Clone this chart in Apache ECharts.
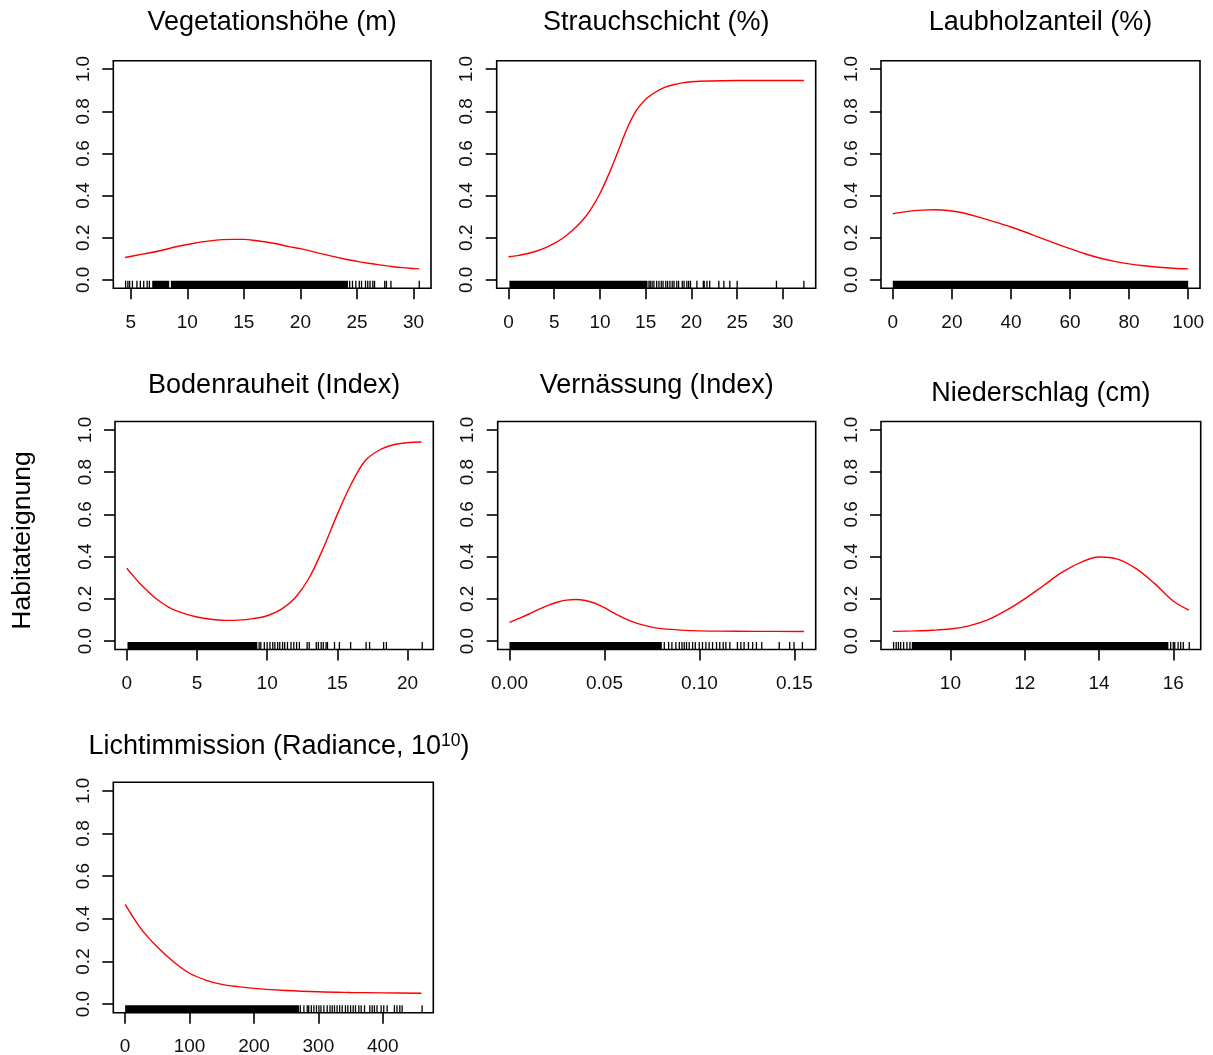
<!DOCTYPE html>
<html><head><meta charset="utf-8">
<script src="https://cdn.jsdelivr.net/npm/echarts@6/dist/echarts.min.js"></script>
<style>html,body{margin:0;padding:0;background:#fff}#c{width:1213px;height:1055px}</style>
</head><body><div id="c"></div>
<script>
// ---------------- DATA ----------------
const yLabel = 'Habitateignung';
const yTicks = [0, 0.2, 0.4, 0.6, 0.8, 1.0];
const yRange = [0, 1];

// 1 Vegetationshöhe
const vegTitle = 'Vegetationshöhe (m)';
const vegX = [4.5,6,7.5,9,10,12,14,15,16,17.5,19,20,22,24,25,26,27,28,29,30,30.5];
const vegY = [0.106,0.122,0.137,0.157,0.168,0.185,0.192,0.192,0.187,0.175,0.158,0.148,0.122,0.098,0.088,0.079,0.071,0.064,0.058,0.054,0.052];
const vegRange = [4.5, 30.5];
const vegTicks = [5,10,15,20,25,30];
const vegRugDense = [[6.9,8.4],[8.55,24.2]];
const vegRugTicks = [4.55,4.75,4.9,5.15,5.55,5.85,6.15,6.45,6.65,24.35,24.6,24.9,25.2,25.4,25.75,25.95,26.15,26.4,26.55,27.45,27.6,28.0,30.5];

// 2 Strauchschicht
const strTitle = 'Strauchschicht (%)';
const strX = [0,1,2,3,4,5,6,7,8,9,10,11,12,13,14,15,16,17,18,19,20,22,25,28,32.3];
const strY = [0.110,0.115,0.124,0.136,0.152,0.173,0.200,0.235,0.278,0.335,0.410,0.505,0.612,0.722,0.805,0.857,0.889,0.912,0.926,0.935,0.940,0.944,0.946,0.946,0.946];
const strRange = [0, 32.3];
const strTicks = [0,5,10,15,20,25,30];
const strRugDense = [[0.1,15.2]];
const strRugTicks = [15.36,15.5,15.7,15.9,16.2,16.45,16.7,16.9,17.2,17.4,17.65,17.9,18.1,18.4,18.6,19.0,19.2,19.5,19.7,19.9,20.6,21.3,21.4,21.7,22.0,23.0,23.55,24.2,25.0,29.3,32.3];

// 3 Laubholzanteil
const lauTitle = 'Laubholzanteil (%)';
const lauX = [0,5,10,14,20,25,30,35,40,45,50,55,60,65,70,75,80,85,90,95,100];
const lauY = [0.314,0.325,0.331,0.333,0.327,0.314,0.294,0.273,0.251,0.226,0.199,0.173,0.148,0.124,0.104,0.088,0.076,0.067,0.060,0.055,0.052];
const lauRange = [0, 100];
const lauTicks = [0,20,40,60,80,100];
const lauRugDense = [[0,100]];
const lauRugTicks = [];

// 4 Bodenrauheit
const bodTitle = 'Bodenrauheit (Index)';
const bodX = [0,0.5,1,1.5,2,3,4,5,6,7,8,9,10,11,12,13,14,15,16,17,18,19,20,21];
const bodY = [0.345,0.305,0.268,0.236,0.205,0.160,0.132,0.114,0.103,0.098,0.099,0.106,0.120,0.150,0.205,0.300,0.440,0.600,0.745,0.855,0.905,0.930,0.940,0.943];
const bodRange = [0, 21];
const bodTicks = [0,5,10,15,20];
const bodRugDense = [[0.05,9.3]];
const bodRugTicks = [9.43,9.55,9.8,10.0,10.2,10.4,10.55,10.75,10.9,11.1,11.25,11.45,11.7,11.9,12.1,12.3,12.85,13.0,13.5,13.65,13.85,14.0,14.2,14.3,14.8,15.15,15.95,17.05,17.3,18.3,18.5,21.05];

// 5 Vernässung
const verTitle = 'Vernässung (Index)';
const verX = [0,0.005,0.01,0.015,0.02,0.025,0.03,0.035,0.04,0.045,0.05,0.055,0.06,0.065,0.07,0.075,0.08,0.09,0.1,0.11,0.13,0.155];
const verY = [0.088,0.107,0.127,0.149,0.168,0.184,0.194,0.197,0.192,0.179,0.158,0.133,0.110,0.091,0.077,0.066,0.059,0.052,0.048,0.047,0.046,0.0455];
const verRange = [0, 0.155];
const verTicks = [0,0.05,0.10,0.15];
const verRugDense = [[0,0.0802]];
const verRugTicks = [0.0815,0.0838,0.0855,0.0876,0.0894,0.0908,0.092,0.0932,0.0946,0.0964,0.0978,0.0999,0.1016,0.1034,0.1051,0.1069,0.109,0.1107,0.1125,0.1139,0.116,0.12,0.1218,0.1235,0.1258,0.128,0.13,0.1328,0.142,0.1475,0.1498,0.1542];

// 6 Niederschlag
const niedTitle = 'Niederschlag (cm)';
const niedX = [8.45,9,9.5,10,10.5,11,11.5,12,12.5,13,13.5,14,14.5,15,15.5,16,16.42];
const niedY = [0.046,0.048,0.051,0.057,0.072,0.100,0.145,0.200,0.262,0.325,0.372,0.398,0.388,0.343,0.272,0.190,0.147];
const niedRange = [8.45, 16.42];
const niedTicks = [10,12,14,16];
const niedRugDense = [[8.96,15.87]];
const niedRugTicks = [8.47,8.54,8.6,8.66,8.74,8.83,8.91,15.93,16.0,16.04,16.13,16.2,16.27,16.43];

// 7 Lichtimmission
const lichtTitle = 'Lichtimmission (Radiance, 10{sup|10})';
const lichtX = [0,25,50,75,100,125,150,175,200,250,300,350,400,460];
const lichtY = [0.468,0.352,0.268,0.199,0.145,0.113,0.093,0.082,0.074,0.064,0.058,0.055,0.053,0.051];
const lichtRange = [0, 460];
const lichtTicks = [0,100,200,300,400];
const lichtRugDense = [[0,270]];
const lichtRugTicks = [272,277.5,282.7,285,289,293,297,300.8,304,308.5,313.7,318,321.5,325,329,333,337,342,345.7,350,354,357.6,362.8,366.4,371.6,379.8,383.5,387,391,397.4,401.5,406.7,418,422,426.4,430,461];

// ---------------- LAYOUT ----------------
const FONT = '"Liberation Sans", Arial, Helvetica, sans-serif';
const panels = [
  {t:vegTitle, x:vegX, y:vegY, r:vegRange, ticks:vegTicks, dec:0, dense:vegRugDense, rug:vegRugTicks, box:[113.3,60.7,317.7,227.6], ty:23},
  {t:strTitle, x:strX, y:strY, r:strRange, ticks:strTicks, dec:0, dense:strRugDense, rug:strRugTicks, box:[496.7,60.7,319,227.6], ty:23},
  {t:lauTitle, x:lauX, y:lauY, r:lauRange, ticks:lauTicks, dec:0, dense:lauRugDense, rug:lauRugTicks, box:[881,60.7,319,227.6], ty:23},
  {t:bodTitle, x:bodX, y:bodY, r:bodRange, ticks:bodTicks, dec:0, dense:bodRugDense, rug:bodRugTicks, box:[115,421.5,318.3,228], ty:386},
  {t:verTitle, x:verX, y:verY, r:verRange, ticks:verTicks, dec:2, dense:verRugDense, rug:verRugTicks, box:[497.7,421.5,318,228], ty:386},
  {t:niedTitle, x:niedX, y:niedY, r:niedRange, ticks:niedTicks, dec:0, dense:niedRugDense, rug:niedRugTicks, box:[881,421.5,319.7,228], ty:393.5},
  {t:lichtTitle, x:lichtX, y:lichtY, r:lichtRange, ticks:lichtTicks, dec:0, dense:lichtRugDense, rug:lichtRugTicks, box:[113.3,782.3,320,230.4], ty:746.5, tx:279}
];

function ext(r){ const d = (r[1]-r[0])*0.04; return [r[0]-d, r[1]+d]; }
const yExt = ext(yRange);
const RUG = 7.5;

const grid = [], xAxis = [], yAxis = [], series = [], graphic = [];
panels.forEach((p, i) => {
  grid.push({left:p.box[0], top:p.box[1], width:p.box[2], height:p.box[3], show:true,
    borderColor:'#000', borderWidth:1.6, backgroundColor:'transparent', containLabel:false, outerBoundsMode:'none'});
  const xe = ext(p.r);
  xAxis.push({type:'value', gridIndex:i, min:xe[0], max:xe[1],
    axisLine:{show:false, onZero:false}, splitLine:{show:false},
    axisTick:{show:true, inside:false, length:11, customValues:p.ticks, lineStyle:{color:'#000', width:1.6}},
    axisLabel:{show:true, customValues:p.ticks, formatter:(v)=>Number(v).toFixed(p.dec), margin:25,
      fontSize:19, fontFamily:FONT, color:'#111'}});
  yAxis.push({type:'value', gridIndex:i, min:yExt[0], max:yExt[1],
    axisLine:{show:false, onZero:false}, splitLine:{show:false},
    axisTick:{show:true, inside:false, length:11, customValues:yTicks, lineStyle:{color:'#000', width:1.6}},
    axisLabel:{show:true, customValues:yTicks, rotate:90, formatter:(v)=>Number(v).toFixed(1), margin:20,
      fontSize:19, fontFamily:FONT, color:'#111'}});
  series.push({type:'line', xAxisIndex:i, yAxisIndex:i, data:p.x.map((v,k)=>[v,p.y[k]]),
    smooth:0.35, showSymbol:false, symbol:'none', silent:true,
    lineStyle:{color:'#ff0000', width:1.4}, z:5});
  series.push({type:'custom', xAxisIndex:i, yAxisIndex:i, silent:true, clip:true,
    data:p.dense.map(d=>[d[0], d[1]]),
    encode:{x:[0,1]},
    renderItem:(params, api)=>{
      const a = api.coord([api.value(0), yExt[0]]);
      const b = api.coord([api.value(1), yExt[0]]);
      return {type:'rect', shape:{x:a[0], y:a[1]-RUG, width:Math.max(1,b[0]-a[0]), height:RUG}, style:{fill:'#000'}};
    }, z:3});
  series.push({type:'custom', xAxisIndex:i, yAxisIndex:i, silent:true, clip:true,
    data:p.rug.map(v=>[v, 0]),
    encode:{x:0, y:1},
    renderItem:(params, api)=>{
      const a = api.coord([api.value(0), yExt[0]]);
      return {type:'line', shape:{x1:a[0], y1:a[1], x2:a[0], y2:a[1]-RUG}, style:{stroke:'#000', lineWidth:1.3}};
    }, z:3});
  graphic.push({type:'text', x:(p.tx || (p.box[0]+p.box[2]/2)), y:p.ty, silent:true,
    style:{text:p.t, fontSize:27, fontFamily:FONT, fill:'#000', align:'center', verticalAlign:'middle',
      rich:{sup:{fontSize:17.5, fontFamily:FONT, fill:'#000', verticalAlign:'top', padding:[0,0,10,0]}}}});
});
graphic.push({type:'text', x:23, y:540.5, rotation:Math.PI/2, silent:true,
  style:{text:yLabel, fontSize:26.5, fontFamily:FONT, fill:'#000', align:'center', verticalAlign:'middle'}});

const chart = echarts.init(document.getElementById('c'), null, {renderer:'canvas'});
chart.setOption({animation:false, backgroundColor:'#fff', grid, xAxis, yAxis, series, graphic});
</script></body></html>
